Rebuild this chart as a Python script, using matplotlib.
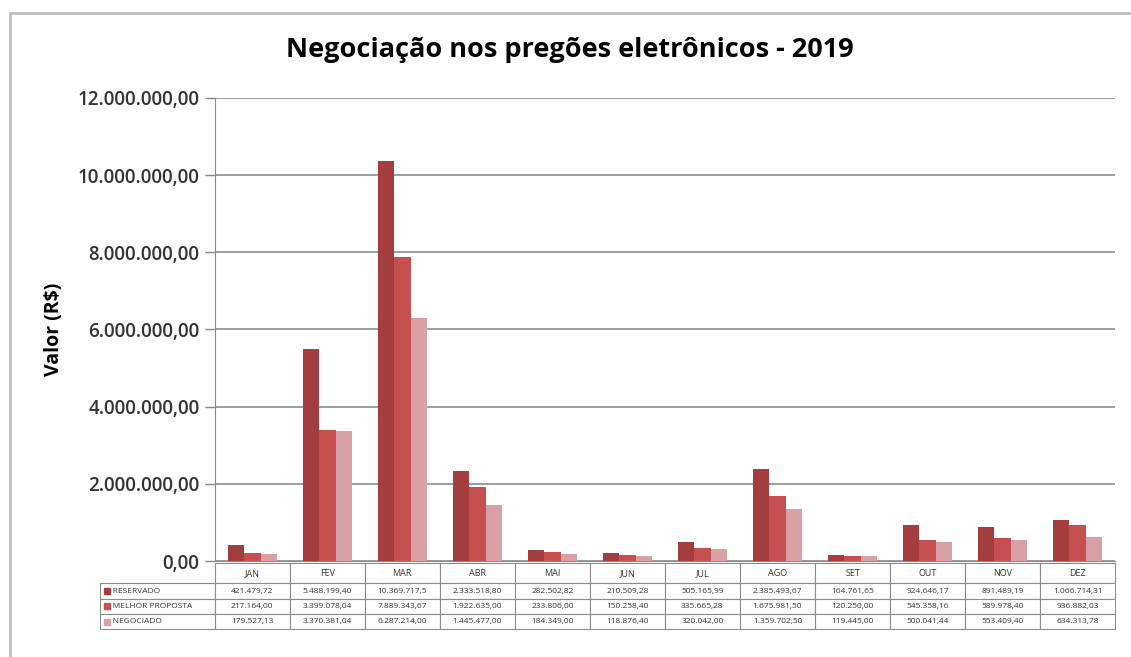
import matplotlib
matplotlib.use("Agg")
from matplotlib import pyplot as plt
from matplotlib.patches import Rectangle
from matplotlib.ticker import FuncFormatter

meses = ["JAN", "FEV", "MAR", "ABR", "MAI", "JUN", "JUL", "AGO", "SET", "OUT", "NOV", "DEZ"]
series = ["RESERVADO", "MELHOR PROPOSTA", "NEGOCIADO"]
reservado = [421479.72, 5488199.40, 10369717.5, 2333518.80, 282502.82, 210509.28,
             505165.99, 2385493.67, 164761.65, 924646.17, 891489.19, 1066714.31]
melhor = [217164.00, 3399078.04, 7889343.67, 1922635.00, 233806.00, 150258.40,
          335665.28, 1675981.50, 120250.00, 545358.16, 589978.40, 936882.03]
negociado = [179527.13, 3370381.04, 6287214.00, 1445477.00, 184349.00, 118876.40,
             320042.00, 1359702.50, 119445.00, 500041.44, 553409.40, 634313.78]
# texto como aparece na tabela do original
tabela = [
    ["421.479,72", "5.488.199,40", "10.369.717,5", "2.333.518,80", "282.502,82", "210.509,28",
     "505.165,99", "2.385.493,67", "164.761,65", "924.646,17", "891.489,19", "1.066.714,31"],
    ["217.164,00", "3.399.078,04", "7.889.343,67", "1.922.635,00", "233.806,00", "150.258,40",
     "335.665,28", "1.675.981,50", "120.250,00", "545.358,16", "589.978,40", "936.882,03"],
    ["179.527,13", "3.370.381,04", "6.287.214,00", "1.445.477,00", "184.349,00", "118.876,40",
     "320.042,00", "1.359.702,50", "119.445,00", "500.041,44", "553.409,40", "634.313,78"],
]
cores = ["#A43E3E", "#C65050", "#D9A0A5"]

plt.rcParams['font.family'] = ['Open Sans', 'DejaVu Sans']

fig = plt.figure(figsize=(11.31, 6.57), dpi=100)
ax = fig.add_axes([0.190, 0.146, 0.796, 0.705])

# borda externa do gráfico
fig.patches.append(Rectangle((0.009, -0.02), 1.2, 1.0, transform=fig.transFigure,
                             fill=False, edgecolor="#bdbdbd", linewidth=2))

x = list(range(len(meses)))
w = 0.22
for i, (vals, c) in enumerate(zip([reservado, melhor, negociado], cores)):
    ax.bar([xi + (i - 1) * w for xi in x], vals, width=w, color=c, zorder=3)

ax.set_xlim(-0.5, len(meses) - 0.5)
ax.set_ylim(0, 12000000)
ax.set_yticks(range(0, 12000001, 2000000))
ax.yaxis.set_major_formatter(FuncFormatter(
    lambda v, p: f"{v:,.2f}".replace(",", "X").replace(".", ",").replace("X", ".")))
ax.tick_params(axis='y', labelsize=13.5, colors="#888888", labelcolor="#333333",
               length=7, width=1, pad=4)
for lab in ax.get_yticklabels():
    lab.set_fontweight("semibold")
ax.set_xticks([])
ax.grid(axis='y', color="#8c8c8c", linewidth=1.2, zorder=0)
for s in ["top", "right"]:
    ax.spines[s].set_visible(False)
ax.spines["left"].set_color("#8c8c8c")
ax.spines["bottom"].set_color("#8c8c8c")

ax.set_ylabel("Valor (R$)", fontsize=14, fontweight="bold", labelpad=10)
fig.text(0.504, 0.924, "Negociação nos pregões eletrônicos - 2019", ha="center", va="center",
         fontsize=19.5, fontweight="bold")

# tabela: primeira coluna com os nomes das séries
linhas = [["     " + s] + row for s, row in zip(series, tabela)]
tb = ax.table(cellText=linhas, colLabels=[""] + meses, cellLoc="center",
              bbox=[-0.128, -0.147, 1.128, 0.143])
tb.auto_set_font_size(False)
tb.set_fontsize(6)
for (r, c), cell in tb.get_celld().items():
    cell.set_width(115 if c == 0 else 75)
    cell.set_height(1.35 if r == 0 else 1.0)
    cell.set_edgecolor("#8c8c8c")
    cell.set_linewidth(0.8)
    cell.get_text().set_color("#333333")
    if c == 0:
        cell.get_text().set_ha("left")
        cell._loc = "left"
        cell.PAD = 0.02
    if r == 0:
        cell.get_text().set_fontsize(6.5)
        if c == 0:
            cell.set_edgecolor("none")

# quadradinhos coloridos da legenda
fig.canvas.draw()
for i, c in enumerate(cores):
    cell = tb[i + 1, 0]
    bb = cell.get_window_extent(fig.canvas.get_renderer()).transformed(fig.transFigure.inverted())
    ym = bb.y0 + bb.height / 2
    fig.patches.append(Rectangle((bb.x0 + 0.004, ym - 0.0045), 0.005, 0.009,
                                 transform=fig.transFigure, color=c))

fig.savefig("out.png", dpi=100)
